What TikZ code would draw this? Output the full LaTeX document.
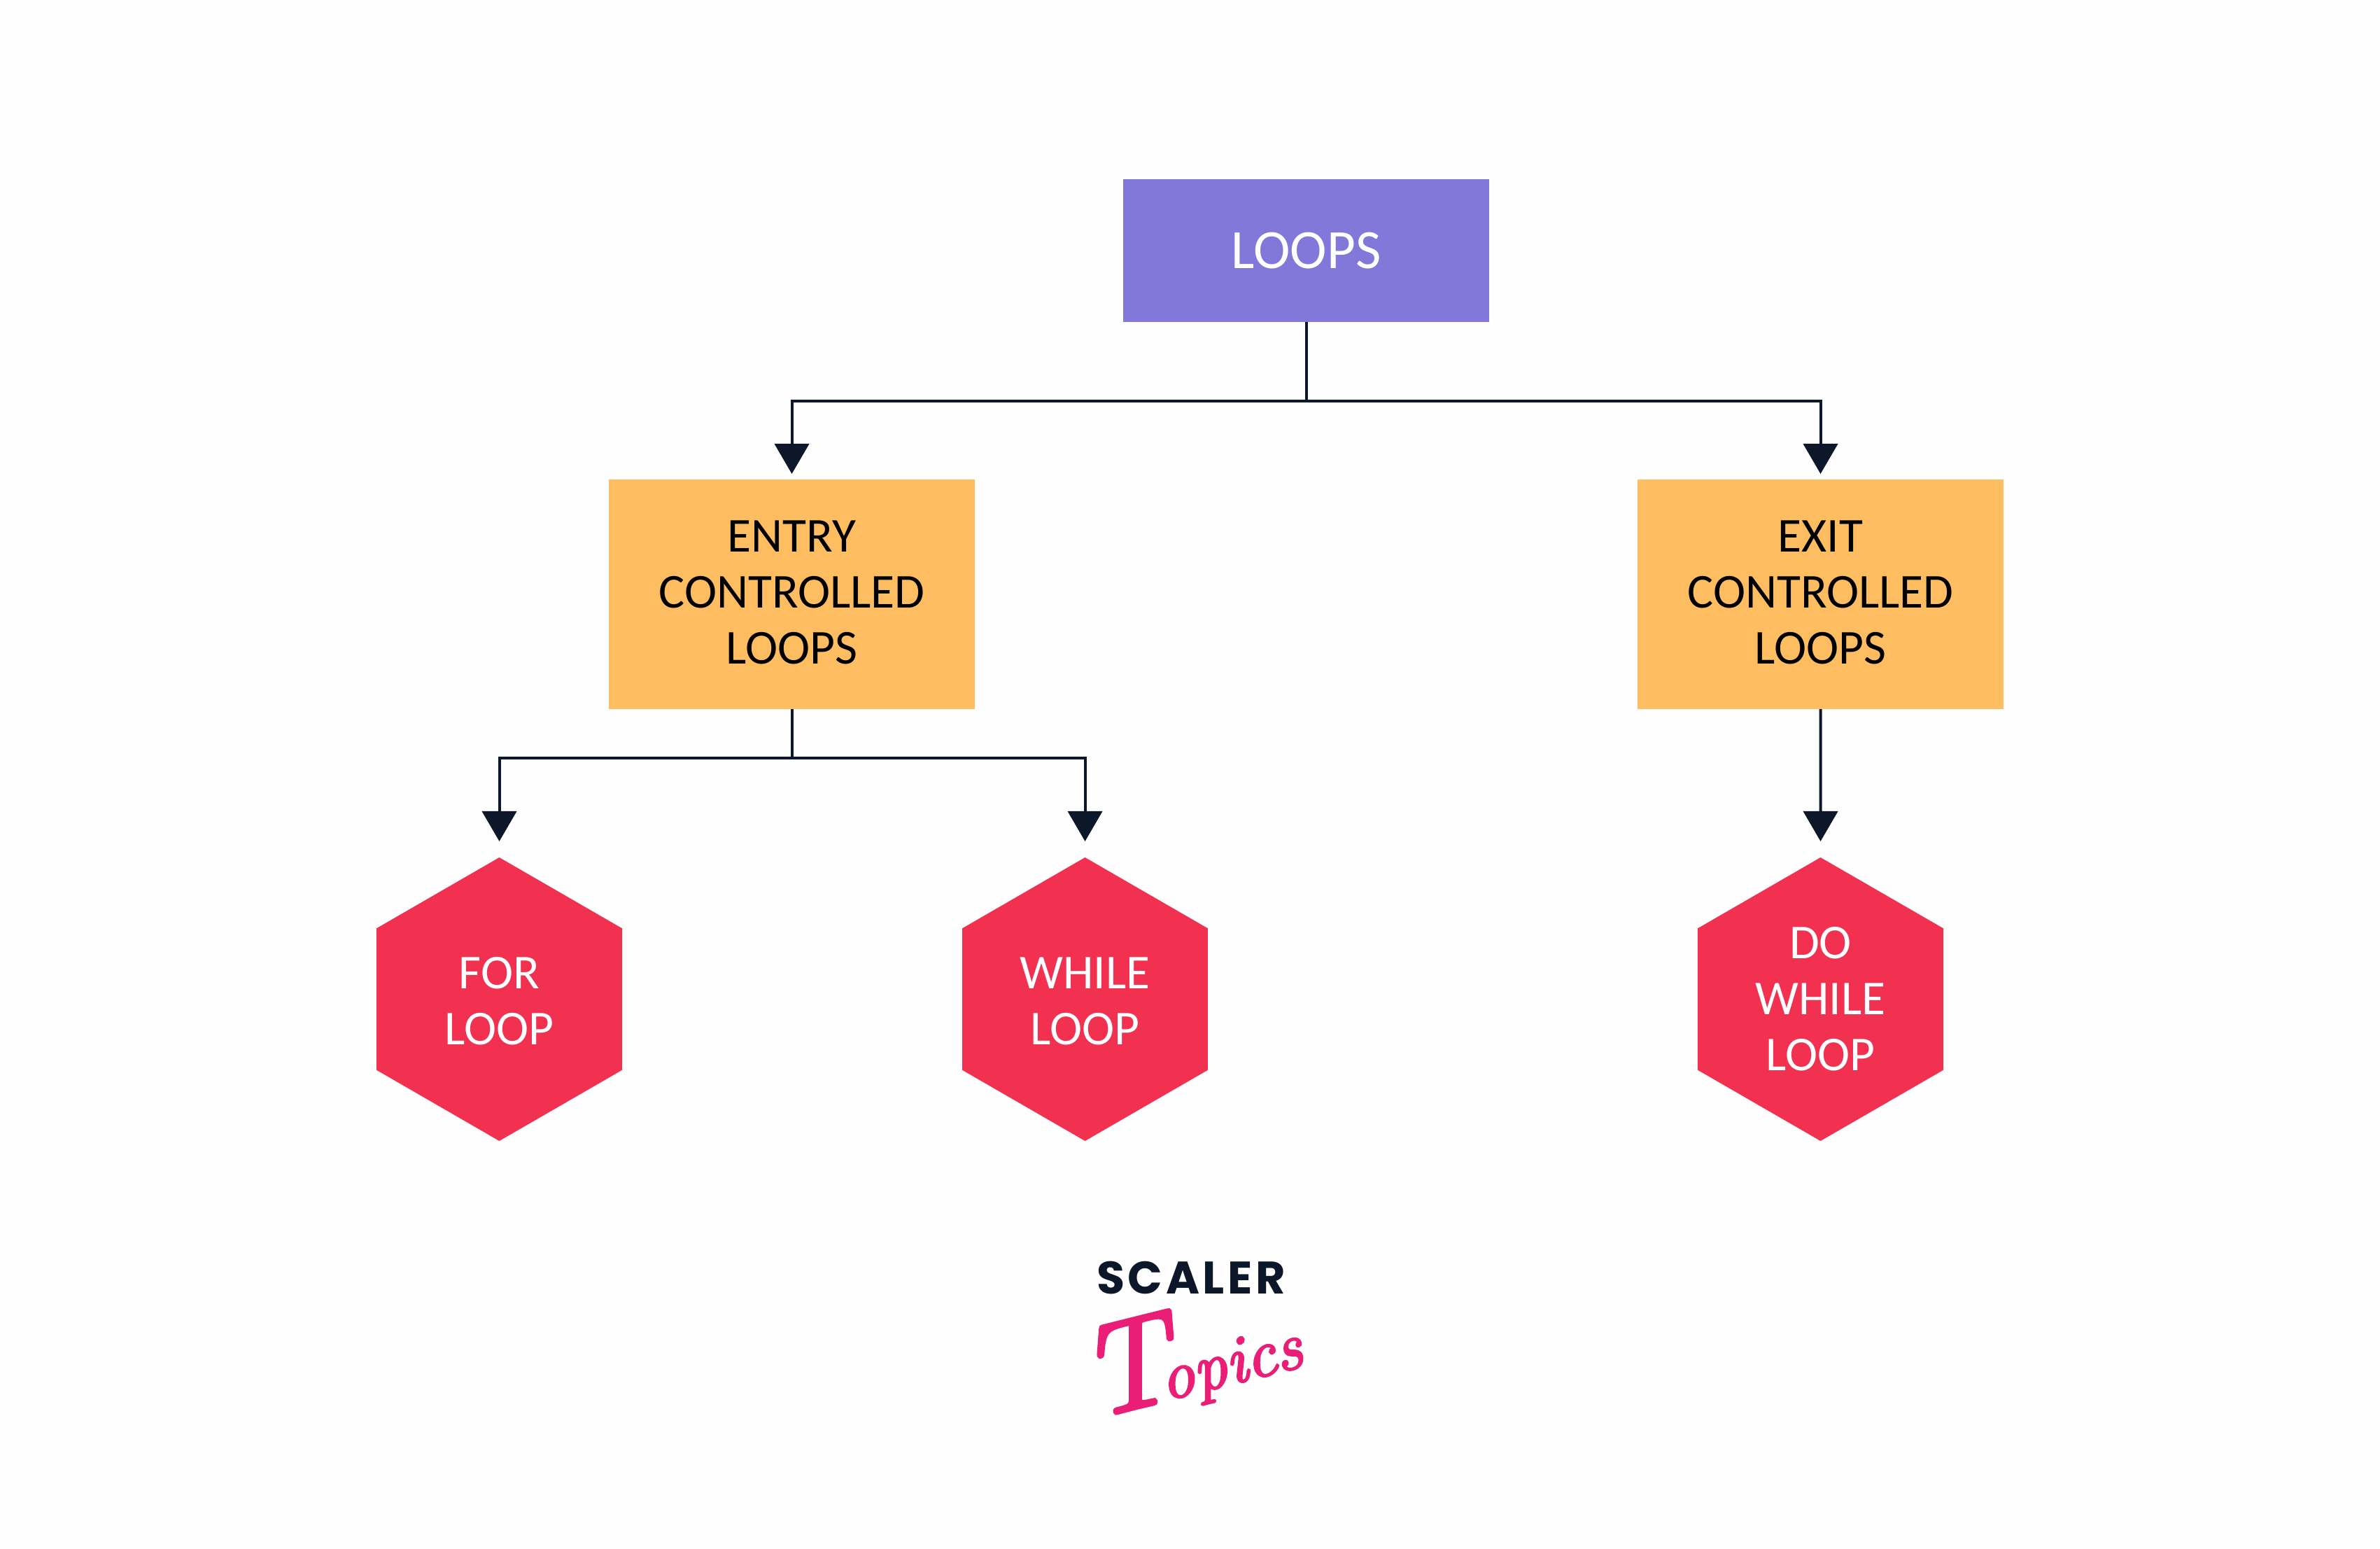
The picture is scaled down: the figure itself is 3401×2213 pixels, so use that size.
\documentclass[tikz,border=0pt]{standalone}
\usepackage{fontspec}
\usetikzlibrary{shapes.geometric,arrows.meta}
\setmainfont{Carlito}
\newfontfamily\brandface{Poppins}[BoldFont={* Bold}]
\newfontfamily\signface{Latin Modern Roman}[ItalicFeatures={FakeBold=3}]
\definecolor{pagebg}{HTML}{FEFEFE}
\definecolor{rootfill}{HTML}{8278D9}
\definecolor{boxfill}{HTML}{FEBD60}
\definecolor{hexfill}{HTML}{F2304F}
\definecolor{ink}{HTML}{0D172A}
\definecolor{signpink}{HTML}{EA1E76}
% Extra depth on a last line lifts a centred block slightly
\newcommand{\liftblock}{\rule[-1.5pt]{0pt}{0pt}}
% Extra height on a first line lowers a centred block slightly
\newcommand{\sinkblock}{\rule{0pt}{12.8pt}}
\tikzset{
  x=0.25pt, y=-0.25pt,
  label font/.style={font=\fontsize{17.4}{20}\selectfont, align=center, inner sep=0pt, outer sep=0pt},
  rootbox/.style={label font, font=\fontsize{19.8}{20}\selectfont, fill=rootfill, text=white, minimum width=130.75pt, minimum height=51pt},
  midbox/.style={label font, fill=boxfill, text=black, minimum width=130.75pt, minimum height=82pt},
  hexbox/.style={label font, shape=regular polygon, regular polygon sides=6, shape border rotate=30, fill=hexfill, text=white, minimum size=101.25pt},
  link/.style={draw=ink, line width=1pt},
  flow/.style={link, -{Triangle[length=10.75pt, width=12.25pt]}},
  near tip/.style={shorten >=2pt},
  far tip/.style={shorten >=5.75pt}
}
\begin{document}
\begin{tikzpicture}
  \useasboundingbox[fill=pagebg] (0,0) rectangle (3401,2213);

  % Boxes of the three levels
  \node[rootbox] (loops) at (1866.5,358) {LOOPS};
  \node[midbox] (entry) at (1131.5,849) {ENTRY\\CONTROLLED\\LOOPS\liftblock};
  \node[midbox] (exit) at (2601.5,849) {EXIT\\CONTROLLED\\LOOPS\liftblock};
  \node[hexbox] (for) at (713.5,1427.5) {\sinkblock FOR\\LOOP};
  \node[hexbox] (while) at (1550.5,1427.5) {\sinkblock WHILE\\LOOP};
  \node[hexbox] (dowhile) at (2601.5,1427.5) {DO\\WHILE\\LOOP};

  % Branch points
  \coordinate (rootbus) at (1866.5,573);
  \coordinate (entrybus) at (1131.5,1083);

  % Connectors
  \draw[link] (loops.south) -- (rootbus);
  \draw[flow, near tip] (rootbus) -| (entry.north);
  \draw[flow, near tip] (rootbus) -| (exit.north);
  \draw[link] (entry.south) -- (entrybus);
  \draw[flow, far tip] (entrybus) -| (for.north);
  \draw[flow, far tip] (entrybus) -| (while.north);
  \draw[flow, far tip] (exit.south) -- (dowhile.north);

  % Wordmark
  \node[inner sep=0pt, text=ink, font=\brandface\bfseries\fontsize{16.3}{18}\selectfont] (brand) at (1702,1825) {S\kern1.15pt C\kern1.15pt A\kern1.15pt L\kern1.15pt E\kern1.15pt R};
  \node[inner sep=0pt, text=signpink, rotate=14, font=\signface\itshape\fontsize{24}{30}\selectfont] (sign) at (1700,1938) {{\fontsize{46}{50}\selectfont T}\kern-5pt opics};
\end{tikzpicture}
\end{document}
